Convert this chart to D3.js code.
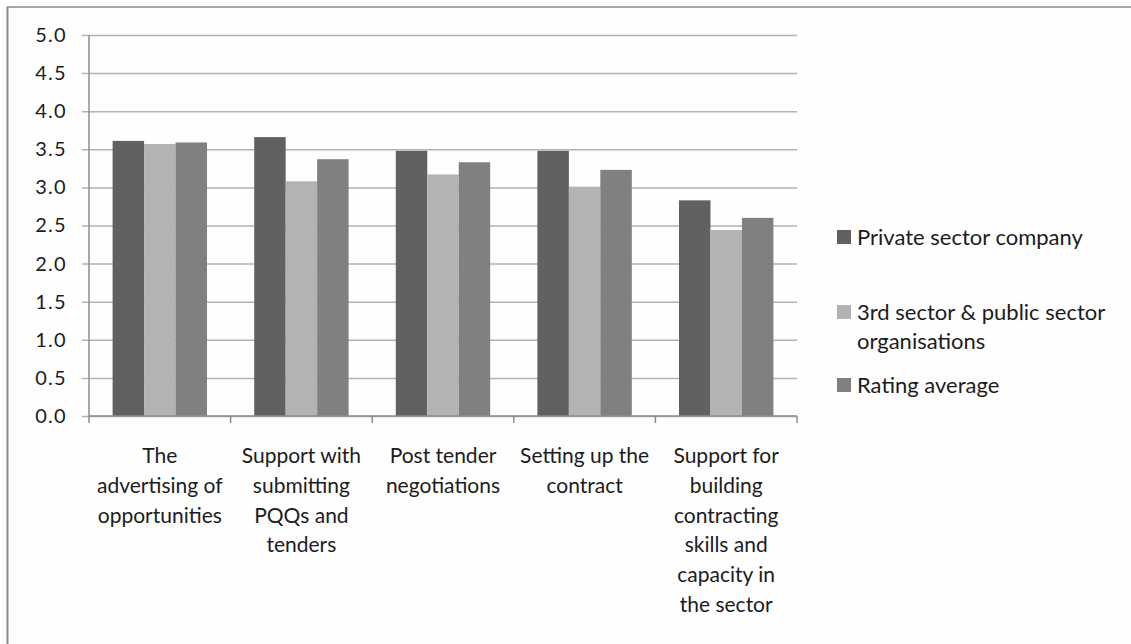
<!DOCTYPE html>
<html>
<head>
<meta charset="utf-8">
<script src="https://cdn.jsdelivr.net/npm/d3@7/dist/d3.min.js"></script>
<style>
  html, body { margin: 0; padding: 0; background: #fefefe; }
  svg { display: block; }
  text { font-family: Lato, "Open Sans", sans-serif; fill: #1c1c1c; }
</style>
</head>
<body>
<svg id="chart" width="1131" height="644"></svg>
<script>
// Categories and their wrapped axis labels
const categories = [
  "The advertising of opportunities",
  "Support with submitting PQQs and tenders",
  "Post tender negotiations",
  "Setting up the contract",
  "Support for building contracting skills and capacity in the sector"
];
const categoryLines = [
  ["The", "advertising of", "opportunities"],
  ["Support with", "submitting", "PQQs and", "tenders"],
  ["Post tender", "negotiations"],
  ["Setting up the", "contract"],
  ["Support for", "building", "contracting", "skills and", "capacity in", "the sector"]
];

// Series
const seriesNames = [
  "Private sector company",
  "3rd sector & public sector organisations",
  "Rating average"
];
const legendLines = [
  ["Private sector company"],
  ["3rd sector & public sector", "organisations"],
  ["Rating average"]
];
const privateSector = [3.61, 3.66, 3.48, 3.48, 2.83];
const thirdPublicSector = [3.57, 3.08, 3.17, 3.01, 2.44];
const ratingAverage = [3.59, 3.37, 3.33, 3.23, 2.60];
const seriesColors = ["#616161", "#b3b3b3", "#808080"];

// Value axis ticks
const yTicks = [0, 0.5, 1, 1.5, 2, 2.5, 3, 3.5, 4, 4.5, 5];

const seriesValues = [privateSector, thirdPublicSector, ratingAverage];
const rows = categories.map((c, i) => ({
  category: c,
  values: seriesNames.map((s, j) => ({ series: s, value: seriesValues[j][i], idx: j }))
}));

const svg = d3.select("#chart");

// Outer frame (left and top edges)
svg.append("line").attr("x1", 7.5).attr("x2", 7.5).attr("y1", 7).attr("y2", 644)
  .attr("stroke", "#8a8a8a").attr("stroke-width", 2);
svg.append("line").attr("x1", 7).attr("x2", 1131).attr("y1", 7).attr("y2", 7)
  .attr("stroke", "#8a8a8a").attr("stroke-width", 1.5);

const plot = { left: 89, right: 797, top: 35, bottom: 416 };

const x = d3.scaleBand().domain(categories).range([plot.left, plot.right]).padding(0);
const xInner = d3.scaleBand().domain(seriesNames).range([0, x.bandwidth()])
  .paddingInner(0).paddingOuter(0.75);
const y = d3.scaleLinear().domain([0, 5]).range([plot.bottom, plot.top]);
const color = d3.scaleOrdinal().domain(seriesNames).range(seriesColors);

// Horizontal gridlines with outward ticks and labels
const yAxis = d3.axisLeft(y).tickValues(yTicks).tickFormat(d3.format(".1f"))
  .tickSizeInner(-(plot.right - plot.left)).tickSizeOuter(0).tickPadding(22);
const gy = svg.append("g").attr("transform", `translate(${plot.left},0)`).call(yAxis);
gy.select(".domain").remove();
gy.selectAll(".tick line")
  .attr("x1", -7)
  .attr("stroke", "#b2b2b2").attr("stroke-width", 1.5);
gy.selectAll(".tick text")
  .attr("font-size", 20).attr("letter-spacing", 1.3)
  .attr("fill", "#1c1c1c").style("font-family", "Lato, sans-serif");

// Bars
const groups = svg.append("g").selectAll("g").data(rows).join("g")
  .attr("transform", d => `translate(${x(d.category)},0)`);
groups.selectAll("rect").data(d => d.values).join("rect")
  .attr("x", d => xInner(d.series))
  .attr("width", xInner.bandwidth())
  .attr("y", d => y(d.value))
  .attr("height", d => y(0) - y(d.value))
  .attr("fill", d => color(d.series));

// Value axis line
svg.append("line").attr("x1", plot.left).attr("x2", plot.left)
  .attr("y1", y(5)).attr("y2", y(0)).attr("stroke", "#8c8c8c").attr("stroke-width", 1.5);

// Category axis with boundary ticks
const gx = svg.append("g").attr("transform", `translate(0,${plot.bottom})`);
gx.append("line").attr("x1", plot.left).attr("x2", plot.right)
  .attr("stroke", "#8c8c8c").attr("stroke-width", 1.5);
const boundaries = categories.map(c => x(c)).concat([x.range()[1]]);
gx.selectAll("line.tick").data(boundaries).join("line").attr("class", "tick")
  .attr("x1", d => d).attr("x2", d => d).attr("y1", 0).attr("y2", 7)
  .attr("stroke", "#8c8c8c").attr("stroke-width", 1.5);

// Category labels
const labels = svg.append("g").selectAll("text").data(categories).join("text")
  .attr("text-anchor", "middle")
  .attr("font-size", 21)
  .attr("x", c => x(c) + x.bandwidth() / 2)
  .attr("y", 463);
labels.each(function(c, i) {
  d3.select(this).selectAll("tspan").data(categoryLines[i]).join("tspan")
    .attr("x", x(c) + x.bandwidth() / 2)
    .attr("dy", (d, k) => k === 0 ? 0 : 29.8)
    .text(d => d);
});

// Legend
const legendBaselines = [245, 320, 393];
const legend = svg.append("g").selectAll("g").data(seriesNames).join("g");
legend.append("rect")
  .attr("x", 837).attr("width", 14)
  .attr("y", (d, i) => legendBaselines[i] - 15).attr("height", 14)
  .attr("fill", d => color(d));
legend.append("text")
  .attr("x", 857).attr("y", (d, i) => legendBaselines[i])
  .attr("font-size", 22)
  .each(function(d, i) {
    d3.select(this).selectAll("tspan").data(legendLines[i]).join("tspan")
      .attr("x", 857).attr("dy", (t, k) => k === 0 ? 0 : 28.5)
      .text(t => t);
  });
</script>
</body>
</html>
